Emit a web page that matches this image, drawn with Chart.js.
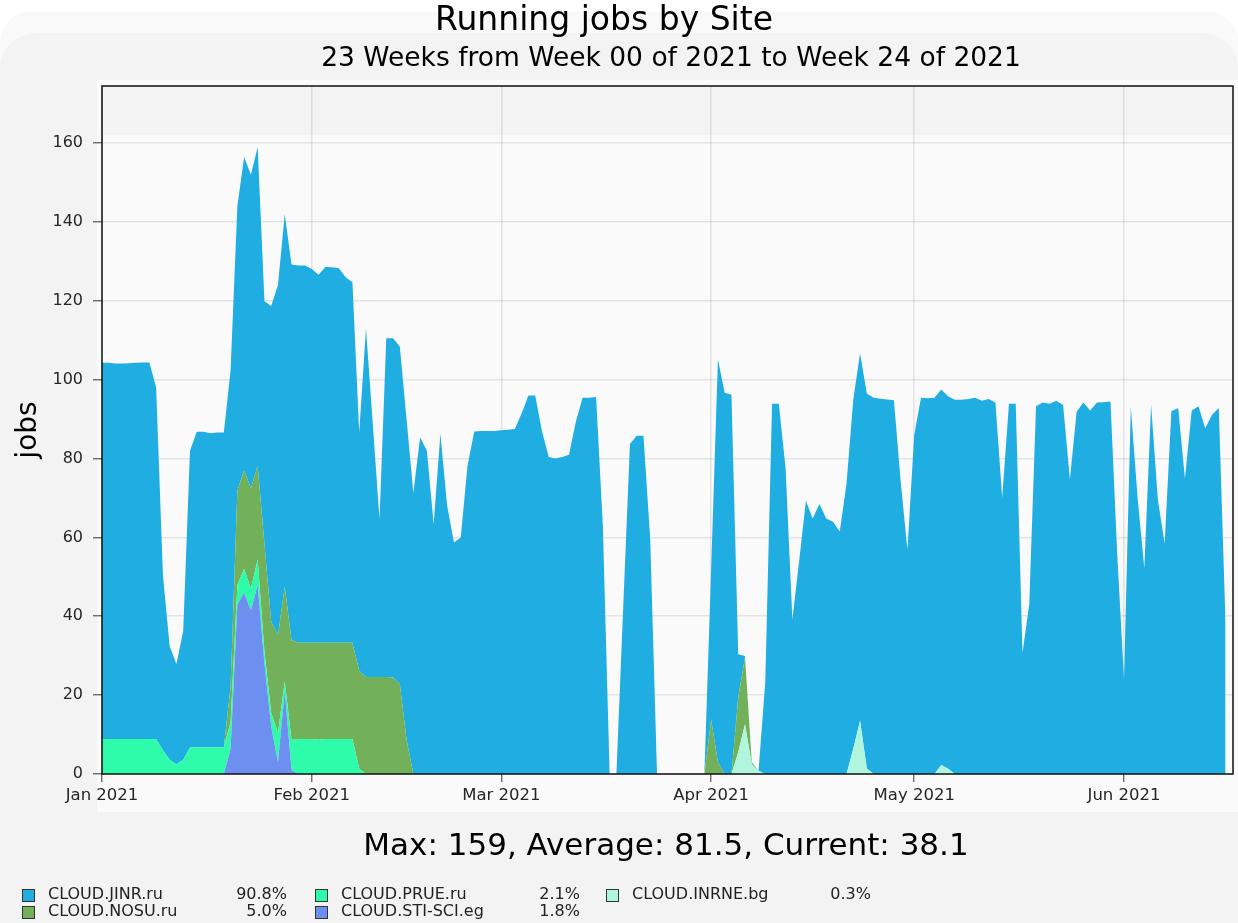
<!DOCTYPE html>
<html>
<head>
<meta charset="utf-8">
<title>Running jobs by Site</title>
<script src="https://cdn.jsdelivr.net/npm/chart.js@4.4.1/dist/chart.umd.min.js"></script>
<style>
  html, body { margin: 0; padding: 0; background: #fff; }
  body { width: 1238px; height: 923px; position: relative; overflow: hidden; font-family: "DejaVu Sans", sans-serif; }
  .panel1 { position: absolute; left: 0; top: 12px; width: 1238px; height: 911px; background: #f9f9f9; border-radius: 30px 30px 0 0; }
  .panel2 { position: absolute; left: 0; top: 33px; width: 1238px; height: 890px; background: #f3f3f3; border-radius: 36px 36px 0 0; }
  .light { position: absolute; left: 97px; top: 80px; width: 1141px; height: 732px; background: #fafafa; }
  canvas { position: absolute; left: 0; top: 0; }
  .txt { position: absolute; white-space: nowrap; line-height: 1; color: #000; }
  .center { transform: translateX(-50%); }
  .sw { position: absolute; width: 11px; height: 11px; border: 1px solid #333; }
  .lg { position: absolute; white-space: nowrap; line-height: 1; font-size: 16px; color: #222; }
  .pct { position: absolute; white-space: nowrap; line-height: 1; font-size: 16px; color: #222; text-align: right; width: 80px; }
</style>
</head>
<body>
<div class="panel1"></div>
<div class="panel2"></div>
<div class="light"></div>
<canvas id="jobsChart" width="1238" height="923"></canvas>

<div class="txt center" style="left:604px; top:2px; font-size:33px;">Running jobs by Site</div>
<div class="txt center" style="left:671px; top:44px; font-size:26.5px;">23 Weeks from Week 00 of 2021 to Week 24 of 2021</div>
<div class="txt center" style="left:666px; top:829px; font-size:31px;">Max: 159, Average: 81.5, Current: 38.1</div>
<div id="legend"></div>

<script>
// daily samples, day 0 = Jan 1 2021
const jinrJobs = [
  95.4, 95.4, 95.2, 95.2, 95.3, 95.4, 95.5, 95.5, 89.1, 44.5,
  28.8, 25.4, 32.7, 75.3, 80, 80, 79.6, 79.8, 79.8, 80.2,
  72.1, 79.5, 79.5, 80.9, 61.5, 80.1, 88.8, 94.5, 95.2, 95.7,
  95.7, 94.8, 93.3, 95.3, 95.2, 95, 92.7, 91.4, 60.4, 88.4,
  64.4, 40, 85.9, 86, 85.6, 81.3, 71.3, 85.4, 82, 63.4,
  86.3, 68, 58.7, 60, 78.1, 86.9, 87, 87, 87, 87.2,
  87.3, 87.5, 91.5, 96, 96, 87, 80.4, 80, 80.4, 81,
  89.3, 95.4, 95.4, 95.6, 62.9, 0, 0, 42, 83.7, 85.8,
  85.8, 59.5, 0, 0, 0, 0, 0, 0, 0, 0,
  38.2, 102.2, 96.7, 96.2, 11, 0.3, 0, 0, 23.4, 93.9,
  93.9, 77.5, 39.2, 54, 69.3, 64.8, 68.5, 64.8, 64, 61.5,
  73.6, 88.6, 93.2, 95.1, 95.4, 95.2, 95, 94.8, 74.2, 56.9,
  86, 95.4, 95.3, 95.4, 95.2, 94.5, 94.9, 94.9, 95.1, 95.4,
  94.7, 95.1, 94.2, 70, 93.9, 93.9, 30.7, 43.1, 93.3, 94.2,
  93.9, 94.7, 93.6, 74.7, 91.9, 94.2, 92.2, 94.2, 94.3, 94.5,
  55.6, 23.9, 93.1, 70.2, 52.1, 93.6, 69.6, 58.4, 92, 92.8,
  74.9, 92.2, 93.3, 87.7, 91.1, 92.8, 38.1
];
const nosuJobs = [
  0, 0, 0, 0, 0, 0, 0, 0, 0, 0,
  0, 0, 0, 0, 0, 0, 0, 0, 0, 9,
  23.9, 25, 25.5, 23.7, 27.4, 23.1, 24.8, 24, 25.4, 24.4,
  24.4, 24.4, 24.6, 24.4, 24.4, 24.4, 24.4, 24.4, 24.9, 24.6,
  24.6, 24.6, 24.6, 24.5, 22.8, 8.7, 0, 0, 0, 0,
  0, 0, 0, 0, 0, 0, 0, 0, 0, 0,
  0, 0, 0, 0, 0, 0, 0, 0, 0, 0,
  0, 0, 0, 0, 0, 0, 0, 0, 0, 0,
  0, 0, 0, 0, 0, 0, 0, 0, 0, 0,
  13.8, 3, 0, 0, 13.9, 17, 0.5, 0, 0, 0,
  0, 0, 0, 0, 0, 0, 0, 0, 0, 0,
  0, 0, 0, 0, 0, 0, 0, 0, 0, 0,
  0, 0, 0, 0, 0, 0, 0, 0, 0, 0,
  0, 0, 0, 0, 0, 0, 0, 0, 0, 0,
  0, 0, 0, 0, 0, 0, 0, 0, 0, 0,
  0, 0, 0, 0, 0, 0, 0, 0, 0, 0,
  0, 0, 0, 0, 0, 0, 0
];
const prueJobs = [
  8.9, 8.9, 8.9, 8.9, 8.9, 8.9, 8.9, 8.9, 8.9, 6,
  3.6, 2.5, 3.6, 6.7, 6.8, 6.8, 6.8, 6.8, 6.8, 6.8,
  5, 6, 5.5, 6.4, 3, 3.5, 7.4, 2.5, 7.6, 8.9,
  8.9, 8.9, 8.7, 8.9, 8.9, 8.9, 8.9, 8.9, 1.3, 0,
  0, 0, 0, 0, 0, 0, 0, 0, 0, 0,
  0, 0, 0, 0, 0, 0, 0, 0, 0, 0,
  0, 0, 0, 0, 0, 0, 0, 0, 0, 0,
  0, 0, 0, 0, 0, 0, 0, 0, 0, 0,
  0, 0, 0, 0, 0, 0, 0, 0, 0, 0,
  0, 0, 0, 0, 0, 0, 0, 0, 0, 0,
  0, 0, 0, 0, 0, 0, 0, 0, 0, 0,
  0, 0, 0, 0, 0, 0, 0, 0, 0, 0,
  0, 0, 0, 0, 0, 0, 0, 0, 0, 0,
  0, 0, 0, 0, 0, 0, 0, 0, 0, 0,
  0, 0, 0, 0, 0, 0, 0, 0, 0, 0,
  0, 0, 0, 0, 0, 0, 0, 0, 0, 0,
  0, 0, 0, 0, 0, 0, 0
];
const stiJobs = [
  0, 0, 0, 0, 0, 0, 0, 0, 0, 0,
  0, 0, 0, 0, 0, 0, 0, 0, 0, 6.4,
  43, 46, 41.5, 48, 28, 12, 3, 21, 1, 0,
  0, 0, 0, 0, 0, 0, 0, 0, 0, 0,
  0, 0, 0, 0, 0, 0, 0, 0, 0, 0,
  0, 0, 0, 0, 0, 0, 0, 0, 0, 0,
  0, 0, 0, 0, 0, 0, 0, 0, 0, 0,
  0, 0, 0, 0, 0, 0, 0, 0, 0, 0,
  0, 0, 0, 0, 0, 0, 0, 0, 0, 0,
  0, 0, 0, 0, 0, 0, 0, 0, 0, 0,
  0, 0, 0, 0, 0, 0, 0, 0, 0, 0,
  0, 0, 0, 0, 0, 0, 0, 0, 0, 0,
  0, 0, 0, 0, 0, 0, 0, 0, 0, 0,
  0, 0, 0, 0, 0, 0, 0, 0, 0, 0,
  0, 0, 0, 0, 0, 0, 0, 0, 0, 0,
  0, 0, 0, 0, 0, 0, 0, 0, 0, 0,
  0, 0, 0, 0, 0, 0, 0
];
const inrneJobs = [
  0, 0, 0, 0, 0, 0, 0, 0, 0, 0,
  0, 0, 0, 0, 0, 0, 0, 0, 0, 0,
  0, 0, 0, 0, 0, 0, 0, 0, 0, 0,
  0, 0, 0, 0, 0, 0, 0, 0, 0, 0,
  0, 0, 0, 0, 0, 0, 0, 0, 0, 0,
  0, 0, 0, 0, 0, 0, 0, 0, 0, 0,
  0, 0, 0, 0, 0, 0, 0, 0, 0, 0,
  0, 0, 0, 0, 0, 0, 0, 0, 0, 0,
  0, 0, 0, 0, 0, 0, 0, 0, 0, 0,
  0, 0, 0, 0, 5.5, 12.6, 2.5, 0.8, 0, 0,
  0, 0, 0, 0, 0, 0, 0, 0, 0, 0,
  0, 6.4, 13.5, 1.4, 0, 0, 0, 0, 0, 0,
  0, 0, 0, 0, 2.3, 1.3, 0, 0, 0, 0,
  0, 0, 0, 0, 0, 0, 0, 0, 0, 0,
  0, 0, 0, 0, 0, 0, 0, 0, 0, 0,
  0, 0, 0, 0, 0, 0, 0, 0, 0, 0,
  0, 0, 0, 0, 0, 0, 0
];

const monthTicks = [0, 31, 59, 90, 120, 151];
const monthLabels = ['Jan 2021', 'Feb 2021', 'Mar 2021', 'Apr 2021', 'May 2021', 'Jun 2021'];
const yTicks = [0, 20, 40, 60, 80, 100, 120, 140, 160];

const siteNames = ['CLOUD.JINR.ru', 'CLOUD.NOSU.ru', 'CLOUD.PRUE.ru', 'CLOUD.STI-SCI.eg', 'CLOUD.INRNE.bg'];
const sitePercents = ['90.8%', '5.0%', '2.1%', '1.8%', '0.3%'];
const siteColors = ['#1fade2', '#72b15a', '#2efcaa', '#6d90f0', '#b0f5dd'];

const days = jinrJobs.map((v, i) => i);

// legend, column-wise like the original (2 rows)
const legend = document.getElementById('legend');
const colX = [22, 315, 606];
const rowY = [889, 906];
siteNames.forEach((name, i) => {
  const col = Math.floor(i / 2), row = i % 2;
  const sw = document.createElement('div');
  sw.className = 'sw';
  sw.style.left = colX[col] + 'px';
  sw.style.top = rowY[row] + 'px';
  sw.style.background = siteColors[i];
  legend.appendChild(sw);
  const t = document.createElement('div');
  t.className = 'lg';
  t.style.left = (colX[col] + 26) + 'px';
  t.style.top = (rowY[row] - 3) + 'px';
  t.textContent = name;
  legend.appendChild(t);
  const p = document.createElement('div');
  p.className = 'pct';
  p.style.left = (colX[col] + 265 - 80) + 'px';
  p.style.top = (rowY[row] - 3) + 'px';
  p.textContent = sitePercents[i];
  legend.appendChild(p);
});

// plot background + frame
const plotDecor = {
  id: 'plotDecor',
  beforeDraw(chart) {
    const { ctx, chartArea: a, scales } = chart;
    ctx.save();
    ctx.fillStyle = '#fafafa';
    ctx.fillRect(a.left, a.top, a.right - a.left, a.bottom - a.top);
    ctx.fillStyle = '#f3f3f3';
    const yb = scales.y.getPixelForValue(162);
    ctx.fillRect(a.left, a.top, a.right - a.left, yb - a.top);
    ctx.restore();
  },
  afterDraw(chart) {
    const { ctx, chartArea: a } = chart;
    ctx.save();
    ctx.strokeStyle = '#111';
    ctx.lineWidth = 1.5;
    ctx.strokeRect(a.left, a.top, a.right - a.left, a.bottom - a.top);
    ctx.restore();
  }
};

Chart.defaults.font.family = '"DejaVu Sans", sans-serif';

function area(label, data, color, fill) {
  return { label, data, backgroundColor: color, borderColor: color, borderWidth: 0, fill, pointRadius: 0, tension: 0 };
}

new Chart(document.getElementById('jobsChart'), {
  type: 'line',
  data: {
    labels: days,
    datasets: [
      area(siteNames[4], inrneJobs, siteColors[4], 'origin'),
      area(siteNames[3], stiJobs, siteColors[3], '-1'),
      area(siteNames[2], prueJobs, siteColors[2], '-1'),
      area(siteNames[1], nosuJobs, siteColors[1], '-1'),
      area(siteNames[0], jinrJobs, siteColors[0], '-1')
    ]
  },
  options: {
    responsive: false,
    animation: false,
    layout: { padding: { top: 86, right: 5, left: 0, bottom: 0 } },
    plugins: { legend: { display: false }, tooltip: { enabled: false } },
    scales: {
      x: {
        type: 'linear',
        min: 0,
        max: 167.1,
        z: 1,
        afterBuildTicks: s => { s.ticks = monthTicks.map(v => ({ value: v })); },
        afterFit: s => { s.height = 149; },
        ticks: {
          callback: v => monthLabels[monthTicks.indexOf(v)],
          font: { size: 16.5 },
          color: '#262626',
          padding: 4,
          maxRotation: 0,
          autoSkip: false
        },
        grid: { color: 'rgba(0,0,0,0.09)', lineWidth: 1.6, tickColor: '#333', tickWidth: 1, tickLength: 8 },
        border: { display: false }
      },
      y: {
        min: 0,
        max: 174.5,
        stacked: true,
        z: 1,
        afterBuildTicks: s => { s.ticks = yTicks.map(v => ({ value: v })); },
        afterFit: s => { s.width = 102; },
        ticks: { font: { size: 16 }, color: '#262626', padding: 10 },
        grid: { color: 'rgba(0,0,0,0.09)', lineWidth: 1.6, tickColor: '#333', tickWidth: 1, tickLength: 9 },
        border: { display: false },
        title: { display: true, text: 'jobs', font: { size: 28 }, color: '#000', padding: { top: 12, bottom: 0 } }
      }
    }
  },
  plugins: [plotDecor]
});
</script>
</body>
</html>
